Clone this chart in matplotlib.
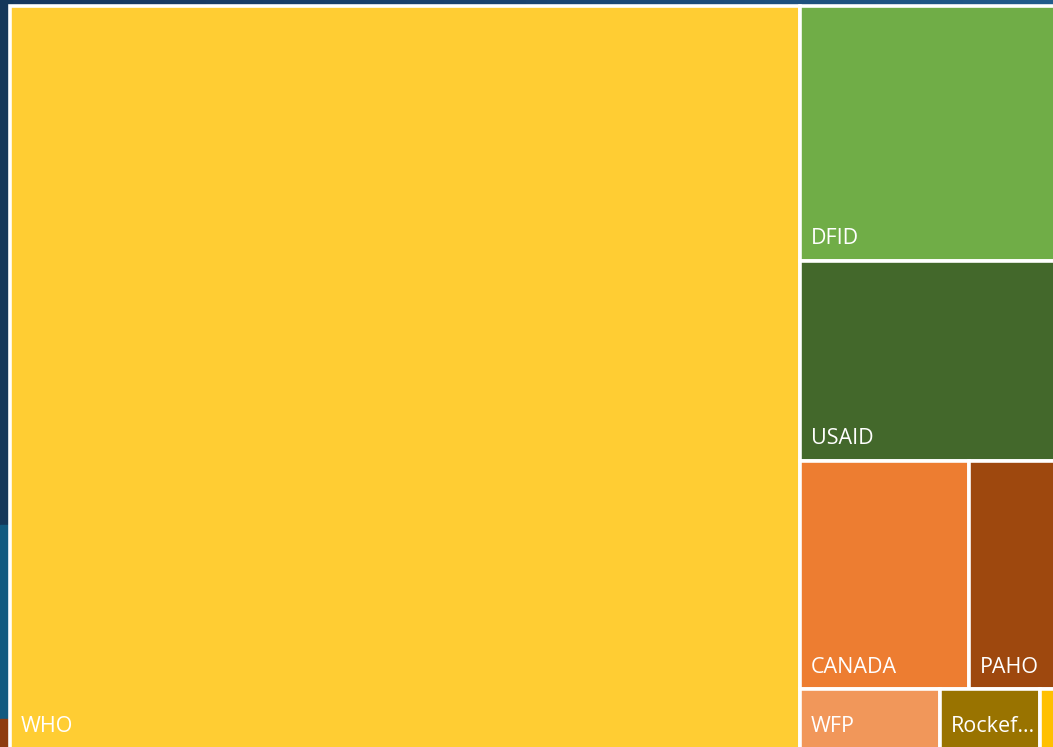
import matplotlib
matplotlib.use("Agg")
import matplotlib.pyplot as plt
import numpy as np
from matplotlib.colors import LinearSegmentedColormap
from matplotlib.patches import Rectangle

# share of funding by donor (percent, read from the tile areas)
donors = ["WHO", "DFID", "USAID", "CANADA", "PAHO", "WFP", "Rockefeller Foundation", "Others"]
shares = [73.42, 9.122, 7.155, 4.820, 3.337, 1.051, 0.750, 0.345]
colors = ["#FFCD33", "#70AD47", "#43682B", "#ED7D31", "#9E480E", "#F1975A", "#997300", "#FFC000"]


def normalize(sizes, dx, dy):
    total = sum(sizes)
    return [s * dx * dy / total for s in sizes]


def layout_row(sizes, x, y, dx, dy):
    # side by side along the top
    h = sum(sizes) / dx
    rects, cx = [], x
    for s in sizes:
        w = s / h
        rects.append((cx, y, w, h))
        cx += w
    return rects


def layout_col(sizes, x, y, dx, dy):
    # stacked down the left side
    w = sum(sizes) / dy
    rects, cy = [], y
    for s in sizes:
        h = s / w
        rects.append((x, cy, w, h))
        cy += h
    return rects


def layout(sizes, x, y, dx, dy):
    return layout_col(sizes, x, y, dx, dy) if dx >= dy else layout_row(sizes, x, y, dx, dy)


def leftover(sizes, x, y, dx, dy):
    if dx >= dy:
        w = sum(sizes) / dy
        return x + w, y, dx - w, dy
    h = sum(sizes) / dx
    return x, y + h, dx, dy - h


def worst_ratio(sizes, x, y, dx, dy):
    return max(max(w / h, h / w) for _, _, w, h in layout(sizes, x, y, dx, dy))


def squarify(sizes, x, y, dx, dy):
    if not sizes:
        return []
    if len(sizes) == 1:
        return layout(sizes, x, y, dx, dy)
    i = 1
    while i < len(sizes) and worst_ratio(sizes[:i], x, y, dx, dy) >= worst_ratio(sizes[:i + 1], x, y, dx, dy):
        i += 1
    cur, rest = sizes[:i], sizes[i:]
    return layout(cur, x, y, dx, dy) + squarify(rest, *leftover(cur, x, y, dx, dy))


def fit_label(ax, text, width, fontsize):
    # shorten with an ellipsis like the office treemap does
    renderer = ax.figure.canvas.get_renderer()
    t = ax.text(0, 0, text, fontsize=fontsize, family="Open Sans")
    label = text
    n = len(text)
    while True:
        t.set_text(label)
        if t.get_window_extent(renderer).width <= width:
            break
        n -= 1
        if n < 2:
            label = ""
            break
        label = text[:n] + "\u2026"
    t.remove()
    return label


fig = plt.figure(figsize=(10.53, 7.47), dpi=100)
ax = fig.add_axes([0, 0, 1, 1])
ax.set_xlim(0, 1053)
ax.set_ylim(747, 0)
ax.axis("off")

# slide background behind the chart
fig.patch.set_facecolor("#15375C")
grad = LinearSegmentedColormap.from_list("bg", ["#17375E", "#1B4470", "#215C8C"])
ax.imshow(np.linspace(0, 1, 256)[None, :], cmap=grad, extent=(0, 1053, 12, 0), aspect="auto", zorder=0)
ax.add_patch(Rectangle((0, 0), 12, 525, color="#14375A", zorder=0))
ax.add_patch(Rectangle((0, 525), 12, 194, color="#125A80", zorder=0))
ax.add_patch(Rectangle((0, 719), 12, 30, color="#8E3B10", zorder=0))

# tree area (extends past the right and bottom of the picture)
x0, y0, W, H = 10, 6, 1076, 743
rects = squarify(normalize(shares, W, H), x0, y0, W, H)

fs = 15.5
for (rx, ry, rw, rh), name, c in zip(rects, donors, colors):
    ax.add_patch(Rectangle((rx, ry), rw, rh, facecolor=c, edgecolor="white", linewidth=2.6, zorder=1))
    label = fit_label(ax, name, rw - 12, fs)
    if label:
        ax.text(rx + 11, ry + rh - 16.5, label, color="white", fontsize=fs, family="Open Sans",
                ha="left", va="baseline", zorder=2, clip_on=True)

fig.savefig("out.png", dpi=100)
